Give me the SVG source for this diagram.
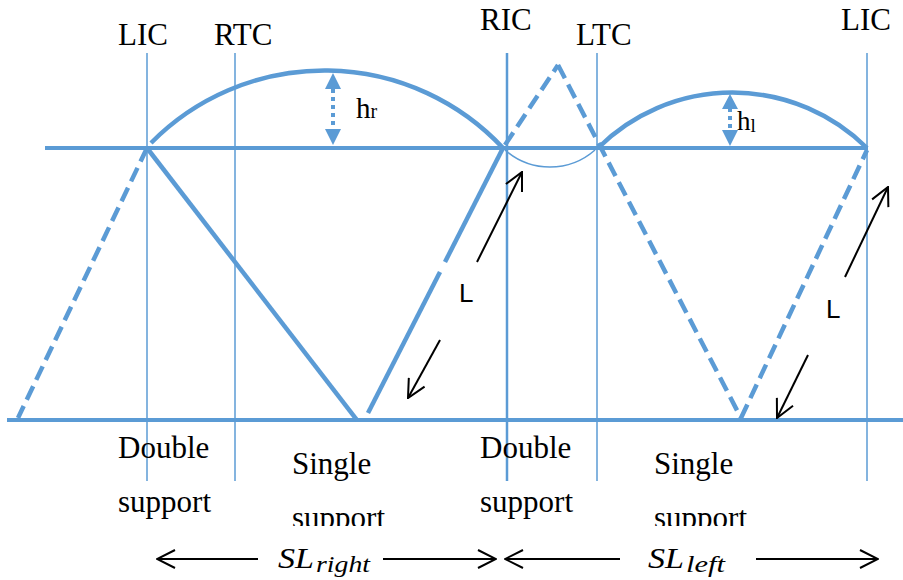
<svg xmlns="http://www.w3.org/2000/svg" width="903" height="580" viewBox="0 0 903 580">
<style>
.thin{stroke:#5b9bd5;stroke-width:1.5;fill:none}
.thick{stroke:#5b9bd5;stroke-width:4.5;fill:none}
.dash{stroke:#5b9bd5;stroke-width:4.5;fill:none;stroke-dasharray:15 7}
.dot{stroke:#5b9bd5;stroke-width:4;fill:none;stroke-dasharray:4 4}
.head{fill:#5b9bd5}
.blk{stroke:#000;stroke-width:2;fill:none}
.lbl{font-family:"Liberation Serif","Times New Roman",serif;font-size:31px;fill:#000}
.lsans{font-family:"Liberation Sans",Arial,sans-serif;font-size:26px;fill:#000}
.math{font-family:"Liberation Serif","Times New Roman",serif;font-style:italic;fill:#000}
</style>
<defs>
<marker id="open" viewBox="0 0 20 20" refX="19" refY="10" markerWidth="20" markerHeight="20" markerUnits="userSpaceOnUse" orient="auto-start-reverse">
<path d="M1,1 L19,10 L1,19" fill="none" stroke="#000" stroke-width="2"/>
</marker>
<clipPath id="clipS"><rect x="0" y="0" width="903" height="526"/></clipPath>
</defs>

<g id="verticals">
<line class="thin" x1="147" y1="53" x2="147" y2="481"/>
<line class="thin" x1="235" y1="53" x2="235" y2="481"/>
<line class="thin" x1="507" y1="53" x2="507" y2="481" style="stroke-width:2.5"/>
<line class="thin" x1="597" y1="53" x2="597" y2="481"/>
<line class="thin" x1="867" y1="53" x2="867" y2="481"/>
</g>

<g id="ground">
<line class="thick" x1="45" y1="148" x2="868" y2="148" style="stroke-width:4"/>
<line class="thick" x1="7" y1="420" x2="903" y2="420" style="stroke-width:4"/>
</g>

<g id="swing-arcs">
<path class="thick" d="M151,143 A244,244 0 0 1 503,148"/>
<path class="thick" d="M598,148 A191,191 0 0 1 867,148"/>
<path class="thin" d="M505,150 A68,68 0 0 0 595,150"/>
</g>

<g id="legs">
<line class="dash" x1="147" y1="148" x2="18" y2="418"/>
<line class="thick" x1="147" y1="148" x2="357" y2="420"/>
<line class="thick" x1="503" y1="148" x2="445" y2="262"/>
<line class="thick" x1="440" y1="272" x2="368" y2="413"/>
<line class="dash" x1="505" y1="145" x2="558" y2="65"/>
<line class="dash" x1="558" y1="65" x2="741" y2="418"/>
<line class="dash" x1="741" y1="418" x2="867" y2="150"/>
</g>

<g id="heights">
<line class="dot" x1="333" y1="89" x2="333" y2="130"/>
<polygon class="head" points="325,89 341,89 333,73"/>
<polygon class="head" points="325,129 341,129 333,145"/>
<line class="dot" x1="730" y1="108" x2="730" y2="131"/>
<polygon class="head" points="722,109 738,109 730,94"/>
<polygon class="head" points="722,130 738,130 730,146"/>
<text class="lbl" x="356" y="118" style="font-size:29px">h<tspan style="font-size:20px">r</tspan></text>
<text class="lbl" x="737" y="130" style="font-size:27px">h<tspan style="font-size:19px" dy="2">l</tspan></text>
</g>

<g id="connectors">
<line class="blk" x1="477" y1="262" x2="522" y2="172" marker-end="url(#open)"/>
<line class="blk" x1="440" y1="340" x2="408" y2="398" marker-end="url(#open)"/>
<line class="blk" x1="845" y1="277" x2="888" y2="187" marker-end="url(#open)"/>
<line class="blk" x1="808" y1="355" x2="777" y2="418" marker-end="url(#open)"/>
<line class="blk" x1="258" y1="559" x2="157" y2="559" marker-end="url(#open)"/>
<line class="blk" x1="383" y1="559" x2="496" y2="559" marker-end="url(#open)"/>
<line class="blk" x1="620" y1="559" x2="505" y2="559" marker-end="url(#open)"/>
<line class="blk" x1="756" y1="559" x2="878" y2="559" marker-end="url(#open)"/>
</g>

<g id="labels">
<text class="lbl" x="118" y="45">LIC</text>
<text class="lbl" x="214" y="45">RTC</text>
<text class="lbl" x="480" y="30">RIC</text>
<text class="lbl" x="576" y="45">LTC</text>
<text class="lbl" x="841" y="30">LIC</text>
<text class="lsans" x="459" y="302">L</text>
<text class="lsans" x="826" y="318">L</text>
<text class="lbl" x="118" y="458">Double</text>
<text class="lbl" x="118" y="512">support</text>
<text class="lbl" x="292" y="474">Single</text>
<text class="lbl" x="292" y="528" clip-path="url(#clipS)">support</text>
<text class="lbl" x="480" y="458">Double</text>
<text class="lbl" x="480" y="512">support</text>
<text class="lbl" x="654" y="474">Single</text>
<text class="lbl" x="654" y="528" clip-path="url(#clipS)">support</text>
<text class="math" x="278" y="568" style="font-size:30px" textLength="36" lengthAdjust="spacingAndGlyphs">SL</text>
<text class="math" x="316" y="572" style="font-size:23px" textLength="54" lengthAdjust="spacingAndGlyphs">right</text>
<text class="math" x="648" y="568" style="font-size:30px" textLength="36" lengthAdjust="spacingAndGlyphs">SL</text>
<text class="math" x="686" y="572" style="font-size:23px" textLength="39" lengthAdjust="spacingAndGlyphs">left</text>
</g>
</svg>
